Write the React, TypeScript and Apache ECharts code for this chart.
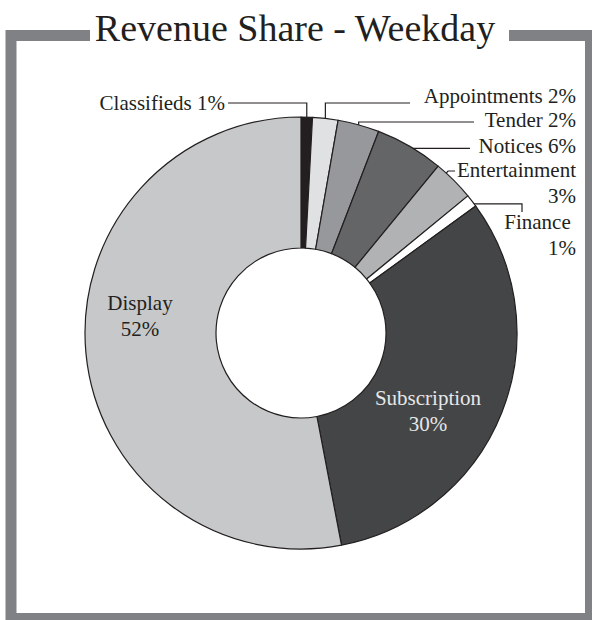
import React, { useEffect, useRef } from 'react';
import * as echarts from 'echarts';

const categories = ['Classifieds', 'Appointments', 'Tender', 'Notices', 'Entertainment', 'Finance', 'Subscription', 'Display'];
const shareValues = [0.85, 1.9, 3.1, 5.1, 3.1, 0.95, 32, 53];
const shareLabels = ['1%', '2%', '2%', '6%', '3%', '1%', '30%', '52%'];
const sliceColors = ['#231f20', '#e0e1e3', '#97989b', '#646567', '#b1b2b4', '#ffffff', '#444547', '#c7c8ca'];
const twoLine = [false, false, false, false, true, true, true, true];
const titleText = 'Revenue Share - Weekday';

export default function App() {
  const ref = useRef<HTMLDivElement>(null);
  useEffect(() => {
    const chart = echarts.init(ref.current!, null, { renderer: 'svg' });
    const font = "'Liberation Serif', 'Times New Roman', Times, serif";
    const ink = '#231f20';
    const data = categories.map((name, i) => ({
      name,
      value: shareValues[i],
      itemStyle: { color: sliceColors[i] },
      label: i >= 6 ? { position: 'inside', color: i === 6 ? '#e6e7e8' : ink } : { position: 'outside' },
      labelLine: { show: i < 6 },
    }));
    const layout = (p: any) => {
      const i = p.dataIndex;
      const pts = p.labelLinePoints;
      const e = pts ? pts[0] : [0, 0];
      switch (i) {
        case 0:
          return { x: 225, y: 103, align: 'right', verticalAlign: 'middle', labelLinePoints: [[e[0], e[1]], [e[0], 103], [228, 103]] };
        case 1:
          return { x: 576, y: 96, align: 'right', verticalAlign: 'middle', labelLinePoints: [[e[0], e[1] + 15], [e[0], 103], [410, 103]] };
        case 2:
          return { x: 576, y: 120, align: 'right', verticalAlign: 'middle', labelLinePoints: [[e[0], e[1] + 8], [e[0], 122], [474, 122]] };
        case 3:
          return { x: 576, y: 146, align: 'right', verticalAlign: 'middle', labelLinePoints: [[e[0] - 19, e[1] + 2], [470, e[1] + 2]] };
        case 4:
          return { x: 576, y: 157, align: 'right', verticalAlign: 'top', labelLinePoints: [[e[0] - 27, e[1] + 15], [448, 171], [455, 171]] };
        case 5:
          return { x: 576, y: 209, align: 'right', verticalAlign: 'top', labelLinePoints: [[e[0] - 3, e[1] + 3], [522, e[1] + 3], [522, 212]] };
        case 6:
          return { x: 428, y: 411, align: 'center', verticalAlign: 'middle' };
        default:
          return { x: 140, y: 316, align: 'center', verticalAlign: 'middle' };
      }
    };
    chart.setOption({
      animation: false,
      backgroundColor: '#ffffff',
      graphic: [
        {
          type: 'rect',
          shape: { x: 11, y: 35.5, width: 579.5, height: 583 },
          style: { fill: 'none', stroke: '#808184', lineWidth: 11 },
          silent: true,
        },
        {
          type: 'rect',
          shape: { x: 90, y: 26, width: 419, height: 18 },
          style: { fill: '#ffffff' },
          silent: true,
        },
        {
          type: 'text',
          x: 295,
          y: 28,
          style: {
            text: titleText,
            fill: ink,
            font: `38px ${font}`,
            textAlign: 'center',
            textVerticalAlign: 'middle',
          },
          silent: true,
        },
      ],
      series: [
        {
          type: 'pie',
          center: [301, 333],
          radius: [85, 216],
          startAngle: 90,
          clockwise: true,
          avoidLabelOverlap: false,
          minAngle: 0,
          itemStyle: { borderColor: ink, borderWidth: 1.2 },
          label: {
            show: true,
            fontFamily: font,
            fontSize: 21,
            color: ink,
            lineHeight: 26,
            formatter: (p: any) => {
              const i = p.dataIndex;
              if (!twoLine[i]) return `${p.name} ${shareLabels[i]}`;
              return `${p.name}${i === 5 ? ' ' : ''}\n${shareLabels[i]}`;
            },
          },
          labelLine: { show: true, length: 5, length2: 5, lineStyle: { color: ink, width: 1.2 } },
          labelLayout: layout,
          emphasis: { disabled: true },
          data,
        },
      ],
    });
    return () => chart.dispose();
  }, []);
  return <div ref={ref} style={{ position: 'fixed', left: 0, top: 0, width: 592, height: 620 }} />;
}
